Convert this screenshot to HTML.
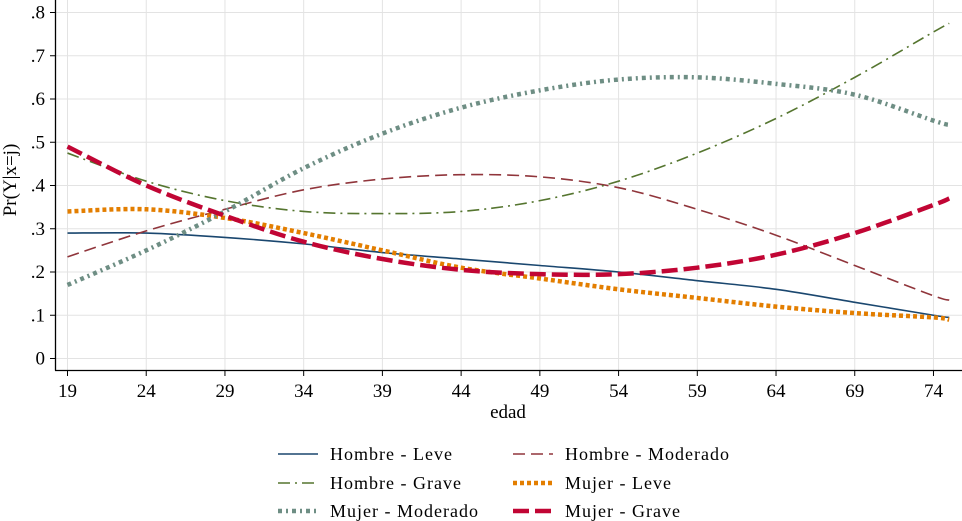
<!DOCTYPE html>
<html><head><meta charset="utf-8"><style>
body{margin:0;background:#fff;}
svg{display:block;font-family:"Liberation Serif",serif;}
</style></head><body>
<svg id="chart" width="962" height="521"></svg>
<script>
const ages=[19,24,29,34,39,44,49,54,59,64,69,74,75];
const hombreLeve=[.29,.29,.28,.265,.245,.23,.215,.20,.18,.16,.13,.10,.095];
const hombreModerado=[.235,.295,.345,.39,.415,.425,.42,.395,.345,.285,.215,.145,.135];
const hombreGrave=[.475,.41,.365,.34,.335,.34,.365,.41,.475,.555,.65,.755,.775];
const mujerLeve=[.34,.345,.325,.29,.25,.21,.185,.16,.14,.12,.105,.095,.09];
const mujerModerado=[.17,.25,.34,.44,.52,.58,.62,.645,.65,.635,.61,.55,.54];
const mujerGrave=[.49,.40,.33,.27,.23,.205,.195,.195,.21,.24,.29,.355,.37];
const xTicks=[19,24,29,34,39,44,49,54,59,64,69,74];
const yTicks=[0,.1,.2,.3,.4,.5,.6,.7,.8];
const yTickLabels=["0",".1",".2",".3",".4",".5",".6",".7",".8"];
const seriesNames=["Hombre - Leve","Hombre - Moderado","Hombre - Grave","Mujer - Leve","Mujer - Moderado","Mujer - Grave"];

const NS="http://www.w3.org/2000/svg";
const svg=document.getElementById('chart');
const X=v=>67.5+(v-19)*15.745;
const Y=v=>358.5-v*432.5;
function el(t,a,p){const e=document.createElementNS(NS,t);for(const k in a)e.setAttribute(k,a[k]);(p||svg).appendChild(e);return e;}
yTicks.forEach((t,i)=>{
  const g=el('line',{x1:56,x2:962,y1:Y(t),y2:Y(t),stroke:'#e3e3e3','stroke-width':1});
  
  
  el('line',{x1:50,x2:56,y1:Y(t),y2:Y(t),stroke:'#000'});
  const tx=el('text',{x:45,y:Y(t)+6,'text-anchor':'end','font-size':19});
  tx.textContent=yTickLabels[i];
  
  
});
xTicks.forEach(t=>{
  const g=el('line',{x1:X(t),x2:X(t),y1:0,y2:370,stroke:'#e3e3e3'});
  
  
  el('line',{x1:X(t),x2:X(t),y1:370,y2:376,stroke:'#000'});
  const tx=el('text',{x:X(t),y:397,'text-anchor':'middle','font-size':19});
  tx.textContent=t;
  
  
});
el('line',{x1:55.5,x2:55.5,y1:0,y2:370.5,stroke:'#000','stroke-width':1.3});
el('line',{x1:55,x2:962,y1:370.5,y2:370.5,stroke:'#000','stroke-width':1.3});
const xt=el('text',{x:508,y:418,'text-anchor':'middle','font-size':19});xt.textContent='edad';

const yt=el('text',{x:0,y:0,'text-anchor':'middle','font-size':19,transform:'translate(16,180) rotate(-90)'});yt.textContent='Pr(Y|x=j)';


const styles=[
 {d:hombreLeve,c:'#1a476f',w:1.6,da:''},
 {d:hombreModerado,c:'#90353b',w:1.6,da:'12,6'},
 {d:hombreGrave,c:'#55752f',w:1.6,da:'12,5,2,5'},
 {d:mujerLeve,c:'#e37e00',w:4.5,da:'4,3'},
 {d:mujerModerado,c:'#6e8e84',w:4.5,da:'4,4,2,4'},
 {d:mujerGrave,c:'#c10534',w:4.5,da:'16,6'}
];
const names=['hombre-leve-line','hombre-moderado-line','hombre-grave-line','mujer-leve-line','mujer-moderado-line','mujer-grave-line'];
function smooth(pts){let d=`M${pts[0][0]},${pts[0][1]}`;for(let i=0;i<pts.length-1;i++){const p0=pts[i-1]||pts[i],p1=pts[i],p2=pts[i+1],p3=pts[i+2]||p2;d+=` C${p1[0]+(p2[0]-p0[0])/6},${p1[1]+(p2[1]-p0[1])/6} ${p2[0]-(p3[0]-p1[0])/6},${p2[1]-(p3[1]-p1[1])/6} ${p2[0]},${p2[1]}`;}return d;}
styles.forEach((s,i)=>{
  const p=el('path',{d:smooth(ages.map((a,j)=>[X(a),Y(s.d[j])])),fill:'none',stroke:s.c,'stroke-width':s.w,'stroke-dasharray':s.da});
  
  
});
const lx=[278,513],ly=[454,483,511];
styles.forEach((s,i)=>{
  const c=i%2,r=Math.floor(i/2);
  const g=el('g',{});
  
  
  el('line',{x1:lx[c],x2:lx[c]+40,y1:ly[r],y2:ly[r],stroke:s.c,'stroke-width':s.w,'stroke-dasharray':s.da},g);
  const t=el('text',{x:lx[c]+52,y:ly[r]+6,'font-size':18,'letter-spacing':1},g);t.textContent=seriesNames[i];
});
</script>
</body></html>
